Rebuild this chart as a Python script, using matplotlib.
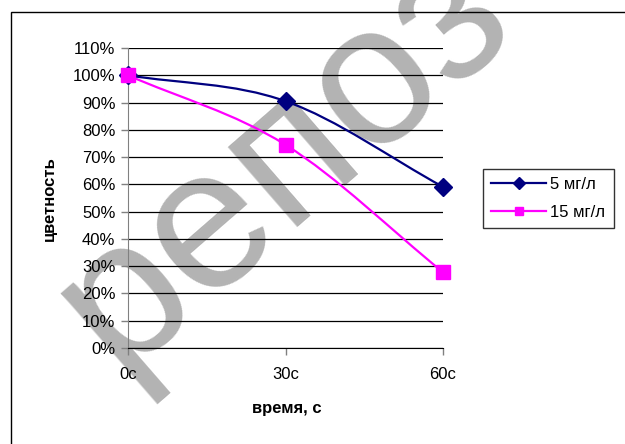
#Color loss over time, smoothed Excel-style lines
import matplotlib
matplotlib.use("Agg")
import matplotlib.pyplot as plt
from matplotlib.path import Path
from matplotlib.patches import PathPatch, Rectangle
from matplotlib.lines import Line2D

CATEGORIES = ["0с", "30с", "60с"]
SERIES = ["5 мг/л", "15 мг/л"]
VALUES_5 = [1.00, 0.905, 0.591]
VALUES_15 = [1.00, 0.745, 0.278]
YTICKS = [0.0, 0.1, 0.2, 0.3, 0.4, 0.5, 0.6, 0.7, 0.8, 0.9, 1.0, 1.1]

plt.rcParams['font.family'] = ['Liberation Sans', 'DejaVu Sans']


def smooth_path(xs, ys):
    # cubic bezier through the points, catmull-rom style tangents
    n = len(xs)
    verts = [(xs[0], ys[0])]
    codes = [Path.MOVETO]
    for i in range(n - 1):
        if i == 0:
            t0 = (xs[1] - xs[0], ys[1] - ys[0])
        else:
            t0 = ((xs[i + 1] - xs[i - 1]) / 2, (ys[i + 1] - ys[i - 1]) / 2)
        if i + 1 == n - 1:
            t1 = (xs[i + 1] - xs[i], ys[i + 1] - ys[i])
        else:
            t1 = ((xs[i + 2] - xs[i]) / 2, (ys[i + 2] - ys[i]) / 2)
        verts.append((xs[i] + t0[0] / 3, ys[i] + t0[1] / 3))
        verts.append((xs[i + 1] - t1[0] / 3, ys[i + 1] - t1[1] / 3))
        verts.append((xs[i + 1], ys[i + 1]))
        codes += [Path.CURVE4] * 3
    return Path(verts, codes)


def main():
    fig = plt.figure(figsize=(6.25, 4.44), dpi=100)
    fig.patch.set_facecolor('white')

    # watermark under the chart
    fig.text(0.508, 0.552, "репоз", fontsize=144, color='#b3b3b3',
             rotation=41, rotation_mode='anchor', ha='center', va='baseline',
             zorder=-5)

    # outer chart frame
    fig.patches.append(Rectangle((11 / 625, -0.1), 1.0, 1.1 - 12 / 444,
                                 transform=fig.transFigure, fill=False,
                                 edgecolor='black', linewidth=1.0, zorder=-4))

    ax = fig.add_axes([128 / 625, 1 - 348 / 444, 315 / 625, 300 / 444])
    ax.set_facecolor('none')
    xs = list(range(len(CATEGORIES)))

    styles = [
        (VALUES_5, '#000080', 'D', 9, SERIES[0]),
        (VALUES_15, '#ff00ff', 's', 9.5, SERIES[1]),
    ]
    handles = []
    for vals, col, mk, ms, lab in styles:
        ax.add_patch(PathPatch(smooth_path(xs, vals), facecolor='none',
                               edgecolor=col, linewidth=1.6, zorder=3))
        ax.plot(xs, vals, linestyle='none', marker=mk, markersize=ms,
                color=col, markeredgecolor=col, zorder=4, clip_on=False)
        handles.append(Line2D([], [], color=col, linewidth=1.6, marker=mk,
                              markersize=ms * 0.65, markeredgecolor=col,
                              label=lab))

    ax.set_xlim(0, 2)
    ax.set_ylim(0, 1.1)
    ax.set_xticks(xs)
    ax.set_xticklabels(CATEGORIES)
    ax.set_yticks(YTICKS)
    ax.set_yticklabels([f"{int(round(v * 100))}%" for v in YTICKS])
    ax.tick_params(axis='both', labelsize=12, length=5, width=1,
                   color='#808080', direction='out')
    ax.tick_params(axis='x', pad=9)
    ax.tick_params(axis='y', pad=4)

    ax.grid(True, axis='y', color='black', linewidth=0.9)
    ax.set_axisbelow(True)
    for s in ['top', 'right']:
        ax.spines[s].set_visible(False)
    ax.spines['left'].set_color('#808080')
    ax.spines['bottom'].set_color('black')
    ax.spines['left'].set_zorder(2.5)

    ax.set_ylabel("цветность", fontsize=12, fontweight='bold')
    ax.yaxis.set_label_coords((57 - 128) / 315, (348 - 199) / 300)
    ax.set_xlabel("время, с", fontsize=12, fontweight='bold')
    ax.xaxis.set_label_coords((287 - 128) / 315, (348 - 401) / 300)

    leg = fig.legend(handles=handles, loc='upper left',
                     bbox_to_anchor=(483 / 625, 1 - 169 / 444),
                     fontsize=12, frameon=True, fancybox=False,
                     handlelength=3.3, handletextpad=0.25, labelspacing=0.75,
                     borderpad=0.5, borderaxespad=0)
    leg.get_frame().set_edgecolor('black')
    leg.get_frame().set_linewidth(1.0)

    fig.savefig("out.png", dpi=100, facecolor='white')


if __name__ == "__main__":
    main()
